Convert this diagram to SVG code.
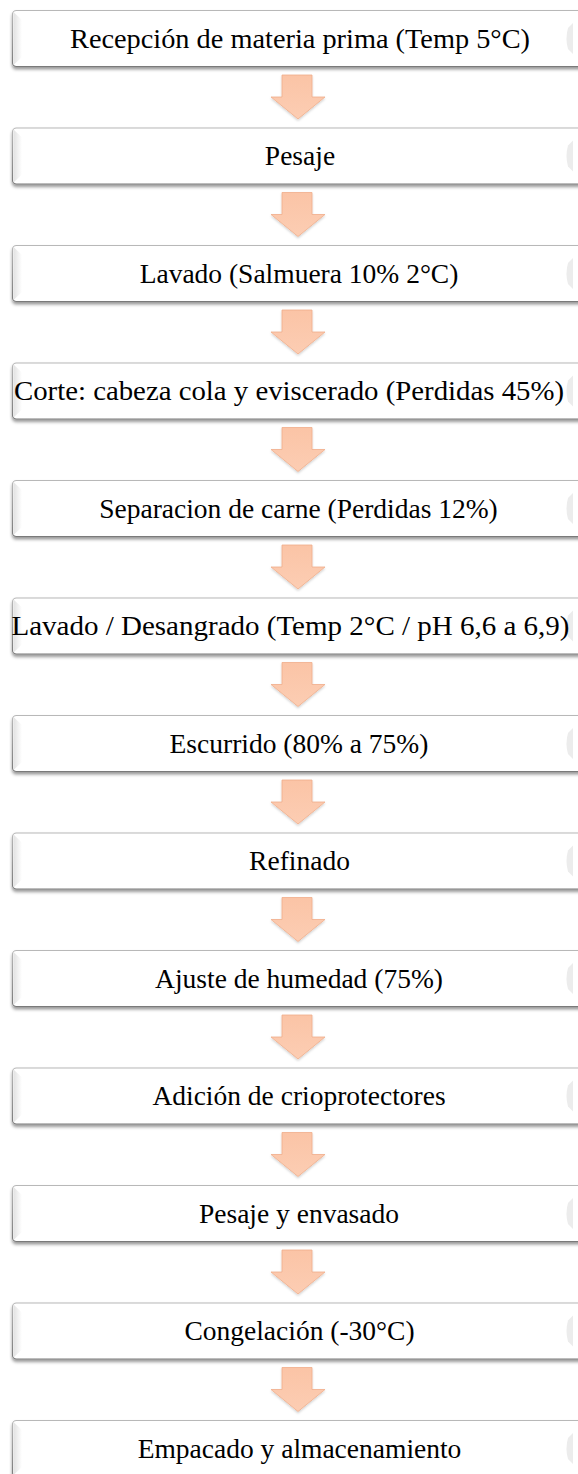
<svg xmlns="http://www.w3.org/2000/svg" width="578" height="1474" viewBox="0 0 578 1474">
<defs>
<style>
.box{fill:#ffffff;stroke:url(#bstroke);stroke-width:1.2;filter:url(#sh)}
.bev{fill:url(#bevL)}
.brk{fill:#ececec}
.lbl{font-family:"Liberation Serif","Times New Roman",serif;font-size:27.5px;fill:#000;text-anchor:middle}
.arr{fill:url(#ag);stroke:#f0ad8a;stroke-width:0.8;filter:url(#ash)}
</style>
<linearGradient id="bstroke" x1="0" y1="0" x2="0" y2="1">
<stop offset="0" stop-color="#b8b8b8"/>
<stop offset="1" stop-color="#7a7a7a"/>
</linearGradient>
<linearGradient id="bevL" x1="0" y1="0" x2="1" y2="0">
<stop offset="0" stop-color="#e2e2e2"/>
<stop offset="1" stop-color="#ffffff"/>
</linearGradient>
<linearGradient id="ag" x1="0" y1="0" x2="0" y2="1">
<stop offset="0" stop-color="#fbc4a6"/>
<stop offset="1" stop-color="#fccdb3"/>
</linearGradient>
<filter id="sh" x="-5%" y="-20%" width="110%" height="150%">
<feDropShadow dx="0" dy="2.5" stdDeviation="1.6" flood-color="#000" flood-opacity="0.4"/>
</filter>
<filter id="ash" x="-30%" y="-30%" width="160%" height="160%">
<feDropShadow dx="0" dy="1.5" stdDeviation="1.2" flood-color="#000" flood-opacity="0.18"/>
</filter>
<path id="arrow" d="M282 75 H312 V97 H325 L298 119 L271 97 H282 Z"/>
</defs>
<rect x="0" y="0" width="578" height="1474" fill="#ffffff"/>

<g id="connectors">
<use href="#arrow" class="arr" transform="translate(0,0)"/>
<use href="#arrow" class="arr" transform="translate(0,117.5)"/>
<use href="#arrow" class="arr" transform="translate(0,235)"/>
<use href="#arrow" class="arr" transform="translate(0,352.5)"/>
<use href="#arrow" class="arr" transform="translate(0,470)"/>
<use href="#arrow" class="arr" transform="translate(0,587.5)"/>
<use href="#arrow" class="arr" transform="translate(0,705)"/>
<use href="#arrow" class="arr" transform="translate(0,822.5)"/>
<use href="#arrow" class="arr" transform="translate(0,940)"/>
<use href="#arrow" class="arr" transform="translate(0,1057.5)"/>
<use href="#arrow" class="arr" transform="translate(0,1175)"/>
<use href="#arrow" class="arr" transform="translate(0,1292.5)"/>
</g>

<g id="n1" transform="translate(0,0)">
<rect class="box" x="12.5" y="10.5" width="580" height="56" rx="4"/>
<path class="bev" d="M13.5 12 L22 20 V57 L13.5 65 Z"/>
<path class="brk" d="M573 23 L568 28 Q565 38.5 568 49 L573 54 Z"/>
<text class="lbl" x="300" y="47.5" textLength="460" lengthAdjust="spacingAndGlyphs">Recepción de materia prima (Temp 5°C)</text>
</g>
<g id="n2" transform="translate(0,117.5)">
<rect class="box" x="12.5" y="10.5" width="580" height="56" rx="4"/>
<path class="bev" d="M13.5 12 L22 20 V57 L13.5 65 Z"/>
<path class="brk" d="M573 23 L568 28 Q565 38.5 568 49 L573 54 Z"/>
<text class="lbl" x="300" y="47.5">Pesaje</text>
</g>
<g id="n3" transform="translate(0,235)">
<rect class="box" x="12.5" y="10.5" width="580" height="56" rx="4"/>
<path class="bev" d="M13.5 12 L22 20 V57 L13.5 65 Z"/>
<path class="brk" d="M573 23 L568 28 Q565 38.5 568 49 L573 54 Z"/>
<text class="lbl" x="299" y="47.5">Lavado (Salmuera 10% 2°C)</text>
</g>
<g id="n4" transform="translate(0,352.5)">
<rect class="box" x="12.5" y="10.5" width="580" height="56" rx="4"/>
<path class="bev" d="M13.5 12 L22 20 V57 L13.5 65 Z"/>
<path class="brk" d="M573 23 L568 28 Q565 38.5 568 49 L573 54 Z"/>
<text class="lbl" x="289" y="47.5" textLength="550" lengthAdjust="spacingAndGlyphs">Corte: cabeza cola y eviscerado (Perdidas 45%)</text>
</g>
<g id="n5" transform="translate(0,470)">
<rect class="box" x="12.5" y="10.5" width="580" height="56" rx="4"/>
<path class="bev" d="M13.5 12 L22 20 V57 L13.5 65 Z"/>
<path class="brk" d="M573 23 L568 28 Q565 38.5 568 49 L573 54 Z"/>
<text class="lbl" x="298.5" y="47.5">Separacion de carne (Perdidas 12%)</text>
</g>
<g id="n6" transform="translate(0,587.5)">
<rect class="box" x="12.5" y="10.5" width="580" height="56" rx="4"/>
<path class="bev" d="M13.5 12 L22 20 V57 L13.5 65 Z"/>
<path class="brk" d="M573 23 L568 28 Q565 38.5 568 49 L573 54 Z"/>
<text class="lbl" x="290.5" y="47.5" textLength="558" lengthAdjust="spacingAndGlyphs">Lavado / Desangrado (Temp 2°C / pH 6,6 a 6,9)</text>
</g>
<g id="n7" transform="translate(0,705)">
<rect class="box" x="12.5" y="10.5" width="580" height="56" rx="4"/>
<path class="bev" d="M13.5 12 L22 20 V57 L13.5 65 Z"/>
<path class="brk" d="M573 23 L568 28 Q565 38.5 568 49 L573 54 Z"/>
<text class="lbl" x="299" y="47.5">Escurrido (80% a 75%)</text>
</g>
<g id="n8" transform="translate(0,822.5)">
<rect class="box" x="12.5" y="10.5" width="580" height="56" rx="4"/>
<path class="bev" d="M13.5 12 L22 20 V57 L13.5 65 Z"/>
<path class="brk" d="M573 23 L568 28 Q565 38.5 568 49 L573 54 Z"/>
<text class="lbl" x="299.5" y="47.5">Refinado</text>
</g>
<g id="n9" transform="translate(0,940)">
<rect class="box" x="12.5" y="10.5" width="580" height="56" rx="4"/>
<path class="bev" d="M13.5 12 L22 20 V57 L13.5 65 Z"/>
<path class="brk" d="M573 23 L568 28 Q565 38.5 568 49 L573 54 Z"/>
<text class="lbl" x="299" y="47.5">Ajuste de humedad (75%)</text>
</g>
<g id="n10" transform="translate(0,1057.5)">
<rect class="box" x="12.5" y="10.5" width="580" height="56" rx="4"/>
<path class="bev" d="M13.5 12 L22 20 V57 L13.5 65 Z"/>
<path class="brk" d="M573 23 L568 28 Q565 38.5 568 49 L573 54 Z"/>
<text class="lbl" x="299" y="47.5">Adición de crioprotectores</text>
</g>
<g id="n11" transform="translate(0,1175)">
<rect class="box" x="12.5" y="10.5" width="580" height="56" rx="4"/>
<path class="bev" d="M13.5 12 L22 20 V57 L13.5 65 Z"/>
<path class="brk" d="M573 23 L568 28 Q565 38.5 568 49 L573 54 Z"/>
<text class="lbl" x="299" y="47.5">Pesaje y envasado</text>
</g>
<g id="n12" transform="translate(0,1292.5)">
<rect class="box" x="12.5" y="10.5" width="580" height="56" rx="4"/>
<path class="bev" d="M13.5 12 L22 20 V57 L13.5 65 Z"/>
<path class="brk" d="M573 23 L568 28 Q565 38.5 568 49 L573 54 Z"/>
<text class="lbl" x="299.5" y="47.5">Congelación (-30°C)</text>
</g>
<g id="n13" transform="translate(0,1410)">
<rect class="box" x="12.5" y="10.5" width="580" height="56" rx="4"/>
<path class="bev" d="M13.5 12 L22 20 V57 L13.5 65 Z"/>
<path class="brk" d="M573 23 L568 28 Q565 38.5 568 49 L573 54 Z"/>
<text class="lbl" x="299.5" y="47.5">Empacado y almacenamiento</text>
</g>
</svg>
